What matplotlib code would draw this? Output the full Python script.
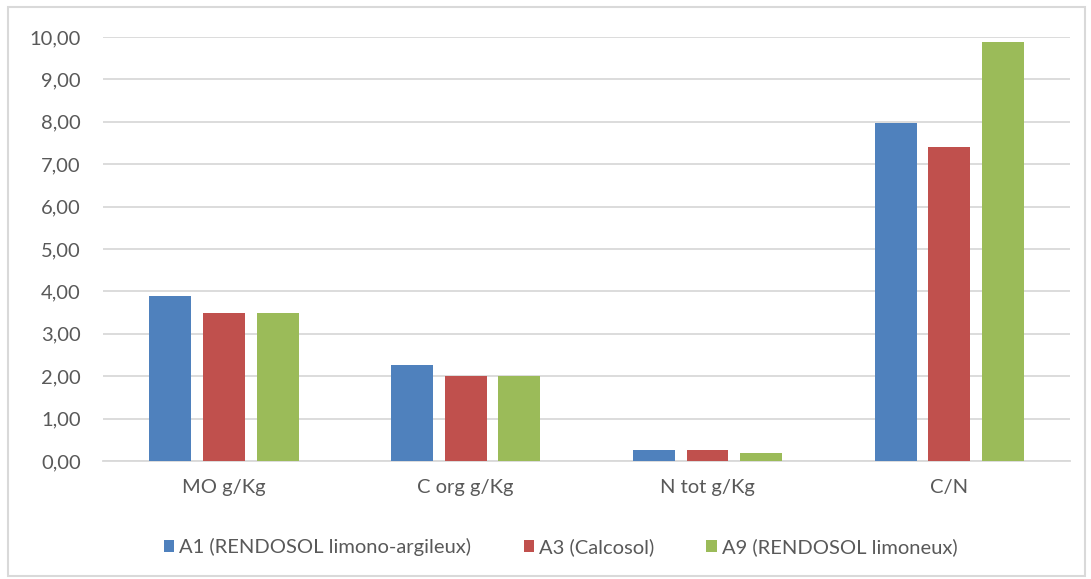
import matplotlib.pyplot as plt
import numpy as np
from matplotlib.patches import Rectangle

categories = ['MO g/Kg', 'C org g/Kg', 'N tot g/Kg', 'C/N']
series_names = ['A1 (RENDOSOL limono-argileux)', 'A3 (Calcosol)', 'A9 (RENDOSOL limoneux)']
a1 = [3.90, 2.26, 0.26, 7.98]
a3 = [3.50, 2.01, 0.26, 7.41]
a9 = [3.50, 2.01, 0.20, 9.89]
colors = ['#4F81BD', '#C0504D', '#9BBB59']

plt.rcParams['font.family'] = ['Lato', 'DejaVu Sans']

fig = plt.figure(figsize=(10.91, 5.79), dpi=100)
ax = fig.add_axes([0.0944, 0.2038, 0.8866, 0.7322])

x = np.arange(len(categories))
width = 0.173
offset = 0.222
for i, (vals, name, c) in enumerate(zip([a1, a3, a9], series_names, colors)):
    ax.bar(x + (i - 1) * offset, vals, width, color=c, label=name, zorder=3)

ax.set_xlim(-0.5, 3.5)
ax.set_ylim(0, 10)
ax.set_yticks(np.arange(0, 11, 1))
ax.set_yticklabels([f'{v:.2f}'.replace('.', ',') for v in np.arange(0, 11, 1)])
ax.set_xticks(x)
ax.set_xticklabels(categories)
ax.yaxis.grid(True, color='#d9d9d9', linewidth=1.3, zorder=0)
ax.tick_params(axis='both', length=0, labelsize=14.5, colors='#595959')
ax.tick_params(axis='y', pad=16)
ax.tick_params(axis='x', pad=13)
for s in ['top', 'right', 'left']:
    ax.spines[s].set_visible(False)
ax.spines['bottom'].set_color('#d9d9d9')
ax.spines['bottom'].set_linewidth(1.3)

fig.legend(loc='center', bbox_to_anchor=(0.514, 0.055), ncol=3, frameon=False,
           fontsize=14.5, handlelength=0.5, handleheight=0.5, handletextpad=0.25,
           columnspacing=2.6, labelcolor='#595959')

fig.patches.append(Rectangle((0.0075, 0.006), 0.987, 0.982, transform=fig.transFigure,
                             fill=False, edgecolor='#d9d9d9', linewidth=1.5))

fig.savefig('out.png', dpi=100)
